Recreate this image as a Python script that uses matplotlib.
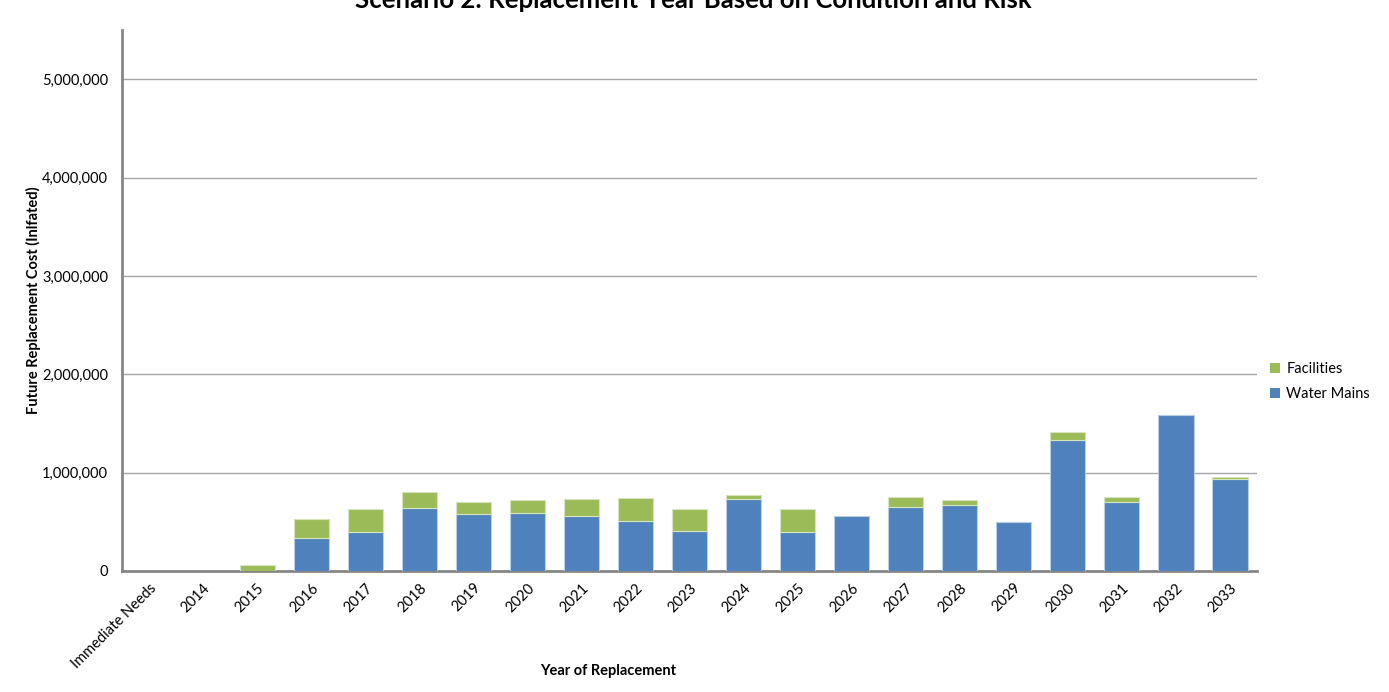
import numpy as np
import matplotlib
matplotlib.use("Agg")
import matplotlib.pyplot as plt
from matplotlib.ticker import FuncFormatter

# Données
years = ["Immediate Needs", "2014", "2015", "2016", "2017", "2018", "2019",
         "2020", "2021", "2022", "2023", "2024", "2025", "2026", "2027",
         "2028", "2029", "2030", "2031", "2032", "2033"]
water_mains = [0, 0, 0, 335000, 400000, 643000, 582000, 592000, 561000,
               504000, 409000, 734000, 399000, 558000, 653000, 673000,
               494000, 1333000, 704000, 1581000, 937000]
facilities = [0, 0, 60000, 190000, 230000, 160000, 118000, 126000, 173000,
              237000, 224000, 41000, 230000, 0, 95000, 45000, 0, 85000,
              47000, 0, 14000]
y_ticks = [0, 1000000, 2000000, 3000000, 4000000, 5000000]

BLUE = "#4F81BD"
GREEN = "#9BBB59"

plt.rcParams["font.family"] = ["Lato", "DejaVu Sans"]

fig = plt.figure(figsize=(13.89, 6.92), dpi=100)
ax = fig.add_axes([0.0878, 0.1749, 0.8172, 0.7817])

x = np.arange(len(years))
# pas de bordure sur les barres de hauteur nulle
lw_water = [0.8 if v > 0 else 0 for v in water_mains]
lw_fac = [0.8 if v > 0 else 0 for v in facilities]
ax.bar(x, water_mains, width=0.65, color=BLUE, edgecolor="#B9CDE5",
       linewidth=lw_water, label="Water Mains", zorder=3)
ax.bar(x, facilities, width=0.65, bottom=water_mains, color=GREEN,
       edgecolor="#D7E4BD", linewidth=lw_fac, label="Facilities", zorder=3)

ax.set_xlim(-0.5, len(years) - 0.5)
ax.set_ylim(0, 5500000)
ax.set_yticks(y_ticks)
ax.yaxis.set_major_formatter(FuncFormatter(lambda v, p: f"{int(v):,}"))
ax.set_xticks(x)
ax.set_xticklabels(years, rotation=45, ha="right", rotation_mode="anchor")
ax.tick_params(axis="both", length=0, labelsize=10.5, colors="black")
ax.tick_params(axis="y", pad=10)
ax.tick_params(axis="x", pad=7)

ax.grid(axis="y", color="#A6A6A6", linewidth=1.0, zorder=0)
for side in ["top", "right"]:
    ax.spines[side].set_visible(False)
for side in ["left", "bottom"]:
    ax.spines[side].set_color("#868686")
    ax.spines[side].set_linewidth(2)

ax.set_ylabel("Future Replacement Cost (Inlfated)", fontsize=10.5,
              fontweight="bold")
ax.yaxis.set_label_coords(-0.071, 0.5)
ax.set_xlabel("Year of Replacement", fontsize=10.5, fontweight="bold")
ax.xaxis.set_label_coords(0.428, -0.172)

# titre coupé en haut, comme sur l'original
fig.text(0.499, 1 - 8 / 692,
         "Scenario 2: Replacement Year Based on Condition and Risk",
         ha="center", va="baseline", fontsize=18.5, fontweight="bold")

handles, labels = ax.get_legend_handles_labels()
ax.legend(handles[::-1], labels[::-1], loc="center left",
          bbox_to_anchor=(1.0, 0.35), frameon=False, fontsize=10.5,
          handlelength=0.7, handleheight=0.7, handletextpad=0.4,
          labelspacing=0.75)

fig.savefig("out.png", dpi=100)
